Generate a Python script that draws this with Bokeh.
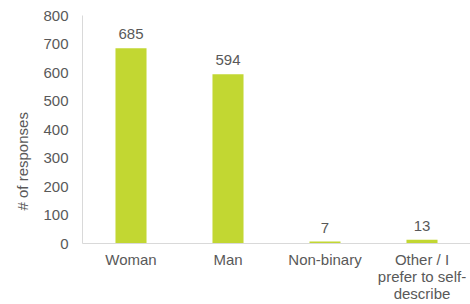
from bokeh.plotting import figure
from bokeh.models import ColumnDataSource, Range1d, FactorRange, Title, LabelSet
from bokeh.core.properties import value
from bokeh.embed import file_html
from bokeh.resources import INLINE

categories = ["Woman", "Man", "Non-binary", "Other / I\nprefer to self-\ndescribe"]
responses = [685, 594, 7, 13]
y_ticks = [0, 100, 200, 300, 400, 500, 600, 700, 800]

FONT = "Liberation Sans"
GRAY = "#595959"
BAR = "#C2D732"

src = ColumnDataSource(dict(cat=categories, val=responses, lbl=[str(v) for v in responses]))

p = figure(width=470, height=304, x_range=FactorRange(*categories, range_padding=0.0),
           y_range=Range1d(0, 800), output_backend="svg", toolbar_location=None,
           min_border_left=82, min_border_right=0, min_border_top=15, min_border_bottom=61)
p.outline_line_color = None
p.grid.visible = False
p.background_fill_color = "white"
p.border_fill_color = "white"

p.vbar(x="cat", top="val", width=0.32, source=src, color=BAR, line_color=None)

labels = LabelSet(x="cat", y="val", text="lbl", source=src, text_align="center",
                  text_baseline="bottom", y_offset=9, text_font=value(FONT),
                  text_font_size="15px", text_color=GRAY)
p.add_layout(labels)

p.yaxis.ticker = y_ticks
for ax in (p.xaxis[0], p.yaxis[0]):
    ax.axis_line_color = "#d9d9d9"
    ax.axis_line_width = 1
    ax.major_tick_line_color = None
    ax.minor_tick_line_color = None
    ax.major_tick_out = 0
    ax.major_tick_in = 0
    ax.major_label_text_font = FONT
    ax.major_label_text_font_size = "15px"
    ax.major_label_text_color = GRAY
p.yaxis.major_label_standoff = 14
p.xaxis.major_label_standoff = 7
p.xaxis.major_label_text_line_height = 1.0

ytitle = Title(text="# of responses", align="left", offset=33, standoff=20,
               text_font=FONT, text_font_size="15px", text_font_style="normal",
               text_color=GRAY)
p.add_layout(ytitle, "left")

open("out.html", "w").write(file_html(p, INLINE))
